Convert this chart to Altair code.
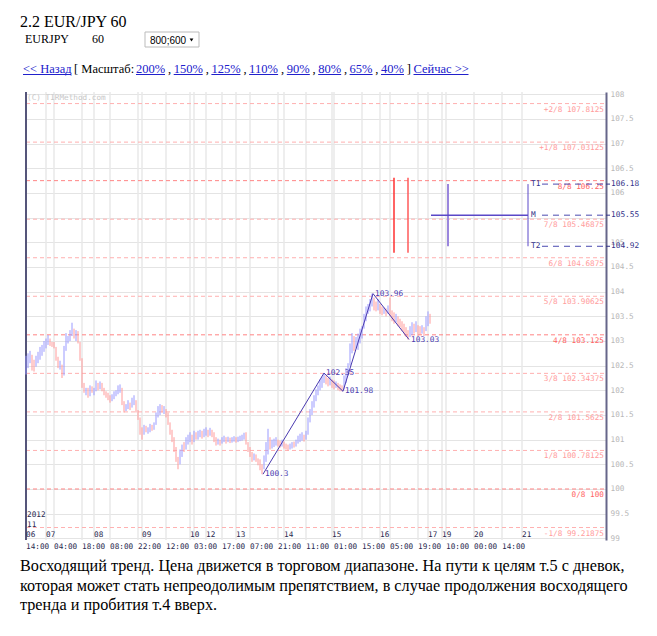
import altair as alt
import pandas as pd

# ---------------- data ----------------
lows = [
102.32,102.45,102.55,102.40,102.38,102.48,102.55,102.62,102.70,102.78,
102.85,102.92,102.90,102.88,102.85,102.60,102.45,102.42,102.25,102.30,
102.80,102.95,103.00,103.10,103.05,103.00,102.95,102.60,102.05,101.95,
101.90,101.85,101.88,101.95,101.90,101.98,102.00,102.02,101.98,101.90,
101.85,101.80,101.75,101.78,101.82,101.88,101.92,101.95,101.70,101.55,
101.58,101.62,101.60,101.65,101.70,101.55,101.40,101.10,101.00,101.10,
101.15,101.12,101.15,101.18,101.20,101.30,101.45,101.50,101.55,101.52,
101.45,101.30,101.10,100.95,100.75,100.55,100.40,100.50,100.65,100.75,
100.80,100.90,100.95,100.90,100.95,101.00,101.00,101.05,101.02,101.05,
101.08,101.05,101.08,101.05,100.95,100.88,100.90,100.88,100.92,100.95,
100.92,100.95,100.93,100.94,100.96,100.94,100.95,100.97,100.98,101.00,
100.90,100.75,100.65,100.55,100.58,100.55,100.48,100.38,100.30,100.40,
100.55,100.70,100.80,100.82,100.85,100.88,100.86,100.84,100.86,100.82,
100.80,100.78,100.80,100.82,100.84,100.86,100.92,100.95,100.98,100.96,
101.00,101.10,101.35,101.50,101.65,101.78,101.90,102.00,102.05,102.15,
102.12,102.08,102.10,102.05,102.02,102.05,102.00,101.98,101.98,102.02,
102.15,102.30,102.50,102.75,102.80,102.85,102.82,102.95,103.05,103.25,
103.40,103.55,103.60,103.70,103.62,103.60,103.62,103.55,103.52,103.55,
103.50,103.55,103.50,103.40,103.35,103.38,103.30,103.28,103.20,103.15,
103.08,103.03,103.08,103.12,103.15,103.18,103.10,103.12,103.15,103.10,
103.20,103.30,103.35]
highs = [
102.70,102.75,102.80,102.72,102.62,102.70,102.78,102.88,102.92,103.00,
103.05,103.12,103.05,102.98,102.98,102.88,102.68,102.60,102.52,102.90,
103.16,103.10,103.22,103.37,103.25,103.22,103.20,102.98,102.65,102.15,
102.05,102.05,102.10,102.08,102.05,102.20,102.15,102.18,102.15,102.05,
101.98,101.95,101.90,101.92,101.98,102.00,102.10,102.12,102.05,101.78,
101.72,101.80,101.75,101.85,101.90,101.80,101.60,101.45,101.25,101.30,
101.28,101.25,101.32,101.30,101.35,101.55,101.68,101.72,101.70,101.68,
101.62,101.55,101.35,101.20,101.05,100.85,100.65,100.80,100.90,100.95,
101.05,101.10,101.15,101.10,101.18,101.15,101.18,101.20,101.18,101.22,
101.25,101.20,101.24,101.20,101.15,101.05,101.02,101.00,101.05,101.08,
101.05,101.06,101.04,101.05,101.07,101.05,101.06,101.08,101.10,101.14,
101.15,100.95,100.85,100.75,100.72,100.70,100.62,100.60,100.50,100.68,
100.95,101.22,101.05,101.00,101.02,101.05,101.00,100.98,101.00,100.96,
100.92,100.90,100.92,100.95,100.96,101.00,101.08,101.12,101.15,101.10,
101.18,101.45,101.62,101.78,101.90,102.02,102.10,102.22,102.28,102.35,
102.30,102.25,102.28,102.22,102.20,102.18,102.15,102.12,102.10,102.30,
102.45,102.55,102.95,103.16,103.10,103.08,103.15,103.25,103.30,103.55,
103.70,103.75,103.85,103.96,103.88,103.80,103.85,103.75,103.70,103.68,
103.66,103.72,103.88,103.62,103.58,103.55,103.50,103.45,103.40,103.35,
103.28,103.22,103.30,103.38,103.35,103.40,103.32,103.30,103.32,103.28,
103.50,103.60,103.55]
dirs = """
u u u d d u u u u u  u u d d d d d u d u  u u u u d u d d d d
u d u d u u d u d d  d d d u u u u u d d  u u d u u d d d d u
d u u d u u u u d u  d d d d d d d u u d  u u u d u d u u d u
u d u d d d u d u u  d u d u u d u u u u  d d d d u d d d d u
u u d u u u d d u d  d d u u d u u u u d  u u u u u u u u u u
d d u d d u d d d u  u u u u d u u u u u  u u u u d d u d d u
d u d d d u d d d d  d d u u d u d d u d  u u d
""".split()

zz_bars = [118.5, 149, 158.5, 173.5, 191.5]
zz_prices = [100.3, 102.35, 101.98, 103.96, 103.03]
zz_text = ["100.3", "102.35", "101.98", "103.96", "103.03"]

mm_levels = [99.21875, 100, 100.78125, 101.5625, 102.34375, 103.125,
             103.90625, 104.6875, 105.46875, 106.25, 107.03125, 107.8125]
mm_text = ["-1/8 99.21875", "0/8 100", "1/8 100.78125", "2/8 101.5625",
           "3/8 102.34375", "4/8 103.125", "5/8 103.90625", "6/8 104.6875",
           "7/8 105.46875", "8/8 106.25", "+1/8 107.03125", "+2/8 107.8125"]
mm_major = ["no", "yes", "no", "no", "no", "yes", "no", "no", "no", "yes", "no", "no"]

price_ticks = [99, 99.5, 100, 100.5, 101, 101.5, 102, 102.5, 103, 103.5,
               104, 104.5, 105, 105.5, 106, 106.5, 107, 107.5, 108]

time_bars = [0, 14, 28, 42, 56, 70, 84, 98, 112, 126, 140, 154, 168, 182, 196, 210, 224, 238]
time_text = ["14:00", "04:00", "18:00", "08:00", "22:00", "12:00", "03:00", "17:00", "07:00",
             "21:00", "11:00", "01:00", "15:00", "05:00", "19:00", "10:00", "00:00", "14:00"]
date_bars = [0, 10, 34, 58, 82, 90, 105, 129, 153, 177, 201, 208, 224, 248]
date_text = ["06", "07", "08", "09", "10", "12", "13", "14", "15", "16", "17", "19", "20", "21"]

target_names = ["T1", "M", "T2"]
target_prices = [106.18, 105.55, 104.92]
signal_bars = [184, 191]
signal_low, signal_high = 104.79, 106.31
proj_bar = 211
m_start_bar, m_end_bar = 202.5, 251
label_bar = 252.5

caption = [
    "Восходящий тренд. Цена движется в торговом диапазоне. На пути к целям т.5 с дневок,",
    "которая может  стать непреодолимым препятствием, в случае продолжения восходящего",
    "тренда и пробития т.4 вверх.",
]

# ---------------- layout ----------------
W, H = 580, 448
OX, OY = 26, 92  # page position of plot origin
MONO = "DejaVu Sans Mono"
SERIF = "Liberation Serif"
LINK = "#2020cc"

xs = alt.Scale(domain=[0, 290], nice=False, zero=False)
ys = alt.Scale(domain=[98.966, 108.047], nice=False, zero=False)
yaxis = alt.Axis(orient="right", values=price_ticks, grid=True, gridColor="#e4e4e4",
                 gridWidth=1, ticks=False, domain=True, domainColor="#66668a",
                 domainWidth=2, labelColor="#b8b8b8", labelFont=MONO, labelFontSize=7.7,
                 labelPadding=4, labelExpr="datum.value == 105.5 ? '' : datum.value + ''",
                 title=None, labelAlign="left", labelBaseline="middle")


def X(f):
    return alt.X(f, type="quantitative", scale=xs, axis=None)


def Y(f):
    return alt.Y(f, type="quantitative", scale=ys, axis=yaxis)


ONE = alt.Data(values=[{}])


def furn(text, px, py, size, color, font=SERIF, align="left", baseline="alphabetic"):
    return alt.Chart(ONE).mark_text(fontSize=size, color=color, font=font, align=align,
                                    baseline=baseline).encode(
        x=alt.value(px - OX), y=alt.value(py - OY), text=alt.value(text))


def hline(x1, x2, py, color, width=1):
    return alt.Chart(ONE).mark_rule(color=color, strokeWidth=width).encode(
        x=alt.value(x1 - OX), x2=alt.value(x2 - OX), y=alt.value(py - OY))


layers = []

# vertical grid
grid_df = pd.DataFrame({"bar": sorted(set(time_bars + date_bars) - {0})})
layers.append(alt.Chart(grid_df).mark_rule(color="#e8e8e8", strokeWidth=1.5).encode(
    x=X("bar"), y=alt.value(0), y2=alt.value(H)))

# Murrey lines
mm_df = pd.DataFrame({"level": mm_levels, "text": mm_text, "major": mm_major})
for flag, lc, tc in [("no", "#ffb0b0", "#ff9c9c"), ("yes", "#ff8484", "#ff6464")]:
    sub = alt.Chart(mm_df).transform_filter(alt.datum.major == flag)
    layers.append(sub.mark_rule(strokeDash=[4, 3], strokeWidth=1, color=lc).encode(
        y=Y("level"), x=alt.value(0), x2=alt.value(W)))
    layers.append(sub.mark_text(align="right", baseline="middle", dy=6, font=MONO,
                                fontSize=7.7, color=tc).encode(
        y=Y("level"), x=alt.value(W - 2), text="text:N"))

# left frame line
layers.append(alt.Chart(ONE).mark_rule(color="#55557a", strokeWidth=2).encode(
    x=alt.value(0), y=alt.value(0), y2=alt.value(H)))

# price bars
bars_df = pd.DataFrame({"bar": list(range(len(lows))), "low": lows, "high": highs, "dir": dirs})
for flag, col in [("d", "#ff9a9a"), ("u", "#9a9aff")]:
    layers.append(alt.Chart(bars_df).transform_filter(alt.datum.dir == flag).mark_rule(
        strokeWidth=1, color=col).encode(x=X("bar"), y=Y("low"), y2=alt.Y2("high")))

# zigzag
zz_df = pd.DataFrame({"bar": zz_bars, "price": zz_prices, "text": zz_text})
layers.append(alt.Chart(zz_df).mark_line(color="#4a3ab0", strokeWidth=1).encode(
    x=X("bar"), y=Y("price")))
layers.append(alt.Chart(zz_df).mark_text(align="left", baseline="middle", dx=2, font=MONO,
                                         fontSize=7.8, color="#4a3ab0").encode(
    x=X("bar"), y=Y("price"), text="text:N"))

# signal lines
for b, col in zip(signal_bars, ["#ff3030", "#ff5a5a"]):
    sdf = pd.DataFrame({"bar": [b], "low": [signal_low], "high": [signal_high]})
    layers.append(alt.Chart(sdf).mark_rule(strokeWidth=1.5, color=col).encode(
        x=X("bar"), y=Y("low"), y2=alt.Y2("high")))

proj_df = pd.DataFrame({"bar": [proj_bar], "low": [target_prices[2]], "high": [target_prices[0]]})
layers.append(alt.Chart(proj_df).mark_rule(strokeWidth=2, color="#9a86dd").encode(
    x=X("bar"), y=Y("low"), y2=alt.Y2("high")))

m_df = pd.DataFrame({"b1": [m_start_bar], "b2": [m_end_bar], "p": [target_prices[1]]})
layers.append(alt.Chart(m_df).mark_rule(strokeWidth=1.5, color="#5a48c8").encode(
    x=X("b1"), x2=alt.X2("b2"), y=Y("p")))

tv_df = pd.DataFrame({"bar": [m_end_bar], "low": [target_prices[2]], "high": [target_prices[0]]})
layers.append(alt.Chart(tv_df).mark_rule(strokeWidth=1, color="#5a48c8").encode(
    x=X("bar"), y=Y("low"), y2=alt.Y2("high")))

tg_df = pd.DataFrame({"name": target_names, "price": target_prices,
                      "label": [f"{p:.2f}" for p in target_prices],
                      "bar": [label_bar] * 3})
layers.append(alt.Chart(tg_df).mark_text(align="left", baseline="middle", font=MONO,
                                         fontSize=7.8, color="#33338a").encode(
    x=X("bar"), y=Y("price"), text="name:N"))
layers.append(alt.Chart(tg_df).mark_rule(strokeDash=[6, 5], strokeWidth=1, color="#4a4ab0").encode(
    x=alt.value(516), x2=alt.value(W), y=Y("price")))
layers.append(alt.Chart(tg_df).mark_rule(strokeWidth=1, color="#33338a").encode(
    x=alt.value(W), x2=alt.value(W + 4), y=Y("price")))
layers.append(alt.Chart(tg_df).mark_text(align="left", baseline="middle", font=MONO,
                                         fontSize=7.8, color="#33338a").encode(
    x=alt.value(W + 5), y=Y("price"), text="label:N"))

# bottom axis labels
date_df = pd.DataFrame({"bar": date_bars, "text": date_text})
time_df = pd.DataFrame({"bar": time_bars, "text": time_text})
layers.append(alt.Chart(date_df).mark_text(align="left", baseline="middle", font=MONO,
                                           fontSize=7.7, color="#2a2a50").encode(
    x=X("bar"), y=alt.value(534.5 - OY), text="text:N"))
layers.append(alt.Chart(time_df).mark_text(align="left", baseline="middle", font=MONO,
                                           fontSize=7.7, color="#2a2a50").encode(
    x=X("bar"), y=alt.value(547 - OY), text="text:N"))

# in-plot furniture
layers.append(furn("(C) TIRMethod.com", 27, 97.5, 7.7, "#c8c8c8", font=MONO, baseline="middle"))
layers.append(furn("2012", 27, 515, 7.7, "#2a2a50", font=MONO, baseline="middle"))
layers.append(furn("11", 27, 524.5, 7.7, "#2a2a50", font=MONO, baseline="middle"))

# page header
layers.append(furn("2.2 EUR/JPY 60", 20, 27, 16, "#000000"))
layers.append(furn("EURJPY", 25, 43, 12, "#000000"))
layers.append(furn("60", 92, 43, 12, "#000000"))
layers.append(alt.Chart(ONE).mark_rect(fill="white", stroke="#bbbbbb", strokeWidth=1).encode(
    x=alt.value(145 - OX), x2=alt.value(199 - OX), y=alt.value(32 - OY), y2=alt.value(47 - OY)))
layers.append(furn("800;600", 150, 43.5, 10, "#000000", font="Liberation Sans"))
layers.append(alt.Chart(ONE).mark_point(shape="triangle-down", filled=True, size=14,
                                        color="#000000", opacity=1).encode(
    x=alt.value(191.5 - OX), y=alt.value(40 - OY)))

# link line: (text, start x, width or 0 for plain text)
link_items = [("<< Назад", 23, 48), ("[ Масштаб:", 74, 0),
              ("200%", 136, 29), (",", 168, 0),
              ("150%", 173.7, 29), (",", 205.7, 0),
              ("125%", 211.4, 29), (",", 243.4, 0),
              ("110%", 249.1, 29), (",", 281.1, 0),
              ("90%", 286.8, 23), (",", 312.5, 0),
              ("80%", 318.2, 23), (",", 343.9, 0),
              ("65%", 349.6, 23), (",", 375.3, 0),
              ("40%", 381, 23), ("]", 406.7, 0),
              ("Сейчас >>", 413.5, 55)]
for t, px, wd in link_items:
    col = LINK if wd else "#000000"
    layers.append(furn(t, px, 73, 12.5, col))
    if wd:
        layers.append(hline(px, px + wd, 74.5, LINK))

for i, line in enumerate(caption):
    layers.append(furn(line, 20, 571 + 19.5 * i, 16.2, "#000000"))

chart = alt.layer(*layers).properties(
    width=W, height=H,
    autosize=alt.AutoSizeParams(type="none"),
    padding={"left": OX - 8, "top": OY - 8, "right": 40, "bottom": 80},
    background="white",
).configure_view(stroke=None)

chart.save("out.html", embed_options={"renderer": "svg", "actions": False})
